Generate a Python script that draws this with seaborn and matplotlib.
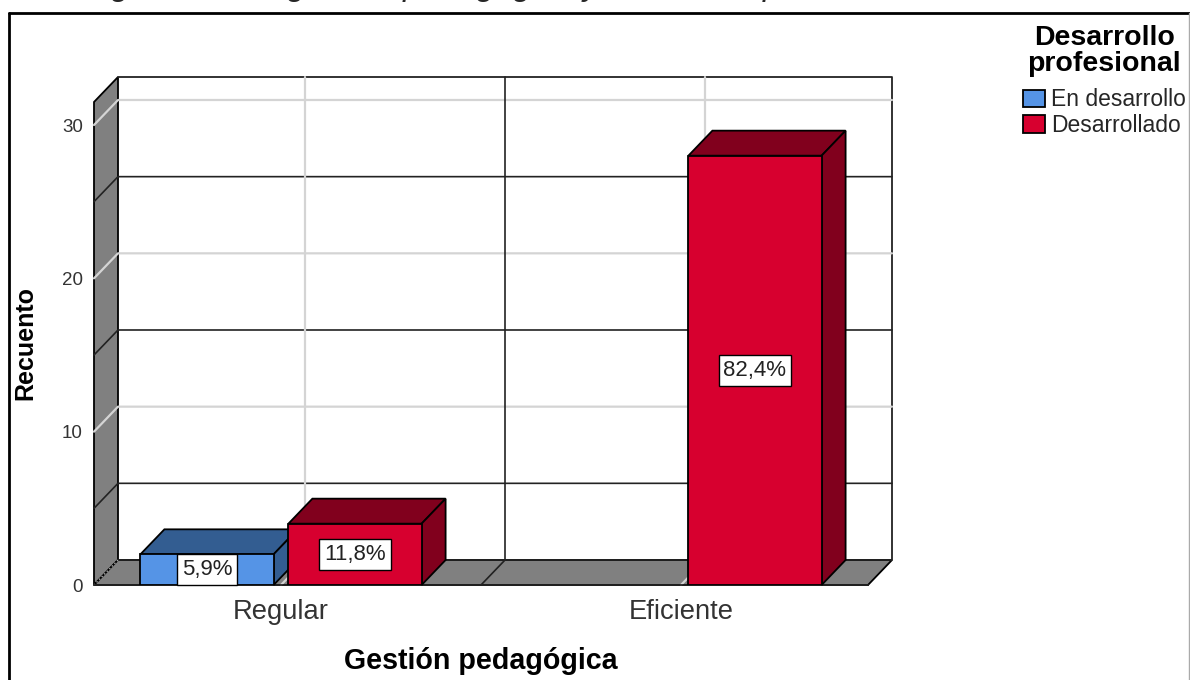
import pandas as pd
import seaborn as sns
import matplotlib.pyplot as plt
from matplotlib.lines import Line2D

# Values
gestion = ["Regular", "Eficiente"]
en_desarrollo = [2, 0]
desarrollado = [4, 28]
en_desarrollo_pct = ["5,9%", ""]
desarrollado_pct = ["11,8%", "82,4%"]
y_ticks = [0, 10, 20, 30]
minor_lines = [5, 15, 25]
major_lines = [10, 20, 30]

BLUE, BLUE_DARK = "#5594E6", "#335D91"
RED, RED_DARK = "#D7002F", "#81001D"
WALL = "#808080"
LIGHT = "#D4D4D4"

df = pd.DataFrame(
    {
        "gestion": gestion * 2,
        "recuento": en_desarrollo + desarrollado,
        "desarrollo": ["En desarrollo"] * 2 + ["Desarrollado"] * 2,
    }
)

sns.set_theme(style="white")
plt.rcParams["font.family"] = ["Liberation Sans", "DejaVu Sans"]

fig = plt.figure(figsize=(11.9, 6.8), dpi=100)
ax = fig.add_axes([94 / 1190, 95 / 680, 774 / 1190, 483 / 680])

sns.barplot(
    data=df,
    x="gestion",
    y="recuento",
    hue="desarrollo",
    palette=[BLUE, RED],
    saturation=1,
    width=0.74,
    gap=0.1,
    edgecolor="black",
    linewidth=1.3,
    ax=ax,
)
x0, x1 = -0.4675, 1.4675
y1 = 31.5
ax.set_xlim(x0, x1)
ax.set_ylim(0, y1)

# depth of the fake 3D box, in data units
dx = 24 / 400
dy = 25 / 15.33

# back wall, side wall and floor
ax.fill([x0, x0 + dx, x0 + dx, x0], [0, dy, y1 + dy, y1], fc=WALL, ec="black", lw=1.3, zorder=1, clip_on=False)
ax.fill([x0, x1, x1 + dx, x0 + dx], [0, 0, dy, dy], fc=WALL, ec="black", lw=1.3, zorder=1, clip_on=False)
ax.plot([x0 + dx, x1 + dx, x1 + dx, x0 + dx], [y1 + dy, y1 + dy, dy, dy], color="#222222", lw=1.3, zorder=2, clip_on=False)

for v in major_lines:
    ax.plot([x0, x0 + dx, x1 + dx], [v, v + dy, v + dy], color=LIGHT, lw=1.6, zorder=2, clip_on=False)
for v in minor_lines:
    ax.plot([x0, x0 + dx, x1 + dx], [v, v + dy, v + dy], color="#222222", lw=1.2, zorder=2, clip_on=False)
for pos in [0, 1]:
    ax.plot([pos, pos + dx, pos + dx], [0, dy, y1 + dy], color=LIGHT, lw=1.6, zorder=2, clip_on=False)
ax.plot([0.5, 0.5 + dx, 0.5 + dx], [0, dy, y1 + dy], color="#222222", lw=1.2, zorder=2, clip_on=False)
ax.plot([x0, x0 + dx], [0, dy], color="#AAAAAA", lw=1, ls=":", zorder=2, clip_on=False)

# top and side faces for every bar, then the percent boxes
shades = [BLUE_DARK, RED_DARK]
pcts = [en_desarrollo_pct, desarrollado_pct]
order = 5
for i, container in enumerate(ax.containers):
    for patch, pct in zip(container, pcts[i]):
        h = patch.get_height()
        if h == 0:
            patch.set_visible(False)
            continue
        left = patch.get_x()
        right = left + patch.get_width()
        ax.fill([left, right, right + dx, left + dx], [h, h, h + dy, h + dy], fc=shades[i], ec="black", lw=1.3, zorder=order, clip_on=False)
        ax.fill([right, right + dx, right + dx, right], [0, dy, h + dy, h], fc=shades[i], ec="black", lw=1.3, zorder=order, clip_on=False)
        patch.set_zorder(order + 0.5)
        ax.text(
            (left + right) / 2,
            h / 2,
            pct,
            ha="center",
            va="center",
            fontsize=16,
            color="#222222",
            zorder=20,
            bbox=dict(boxstyle="square,pad=0.22", fc="white", ec="black", lw=1),
        )
        order += 1

ax.set_yticks(y_ticks)
ax.set_yticklabels(y_ticks, fontsize=13.5, color="#333333")
ax.tick_params(axis="y", length=0, pad=8)
ax.tick_params(axis="x", length=0, pad=10, labelsize=19.7, labelcolor="#333333")
ax.set_xlabel("Gestión pedagógica", fontsize=20.6, fontweight="bold", color="black", labelpad=16)
ax.set_ylabel("Recuento", fontsize=18, fontweight="bold", color="black", labelpad=18)
sns.despine(ax=ax, left=True, top=True, right=True, bottom=False)
ax.spines["bottom"].set_color("#222222")
ax.spines["bottom"].set_linewidth(1.3)
ax.spines["bottom"].set_zorder(3)

sns.move_legend(
    ax,
    "upper left",
    bbox_to_anchor=(1023 / 1190, 1 - 25 / 680),
    bbox_transform=fig.transFigure,
    title="Desarrollo\nprofesional",
    frameon=False,
    fontsize=16.5,
    title_fontproperties={"size": 20.5, "weight": "bold"},
    handlelength=0.96,
    handleheight=0.78,
    handletextpad=0.25,
    labelspacing=0.12,
    borderpad=0,
    borderaxespad=0,
)
legend = ax.get_legend()
legend.get_title().set_linespacing(1.0)
legend.get_title().set_color("black")
legend.get_title().set_multialignment("center")
legend._legend_box.sep = 8

# frame of the pasted picture, and the caption cut off above it
frame = dict(color="black", lw=2, transform=fig.transFigure)
fig.add_artist(Line2D([9 / 1190, 9 / 1190], [0, 1 - 12.5 / 680], **frame))
fig.add_artist(Line2D([9 / 1190, 1], [1 - 12.5 / 680, 1 - 12.5 / 680], **frame))
fig.add_artist(Line2D([1189 / 1190, 1189 / 1190], [0, 1 - 12.5 / 680], color="#AAAAAA", lw=1, transform=fig.transFigure))
fig.text(
    84 / 1190,
    1 + 5.5 / 680,
    "Figura 15. La gestión pedagógica y desarrollo profesional",
    fontsize=23.8,
    style="italic",
    va="baseline",
)

plt.savefig("out.png", dpi=100)
